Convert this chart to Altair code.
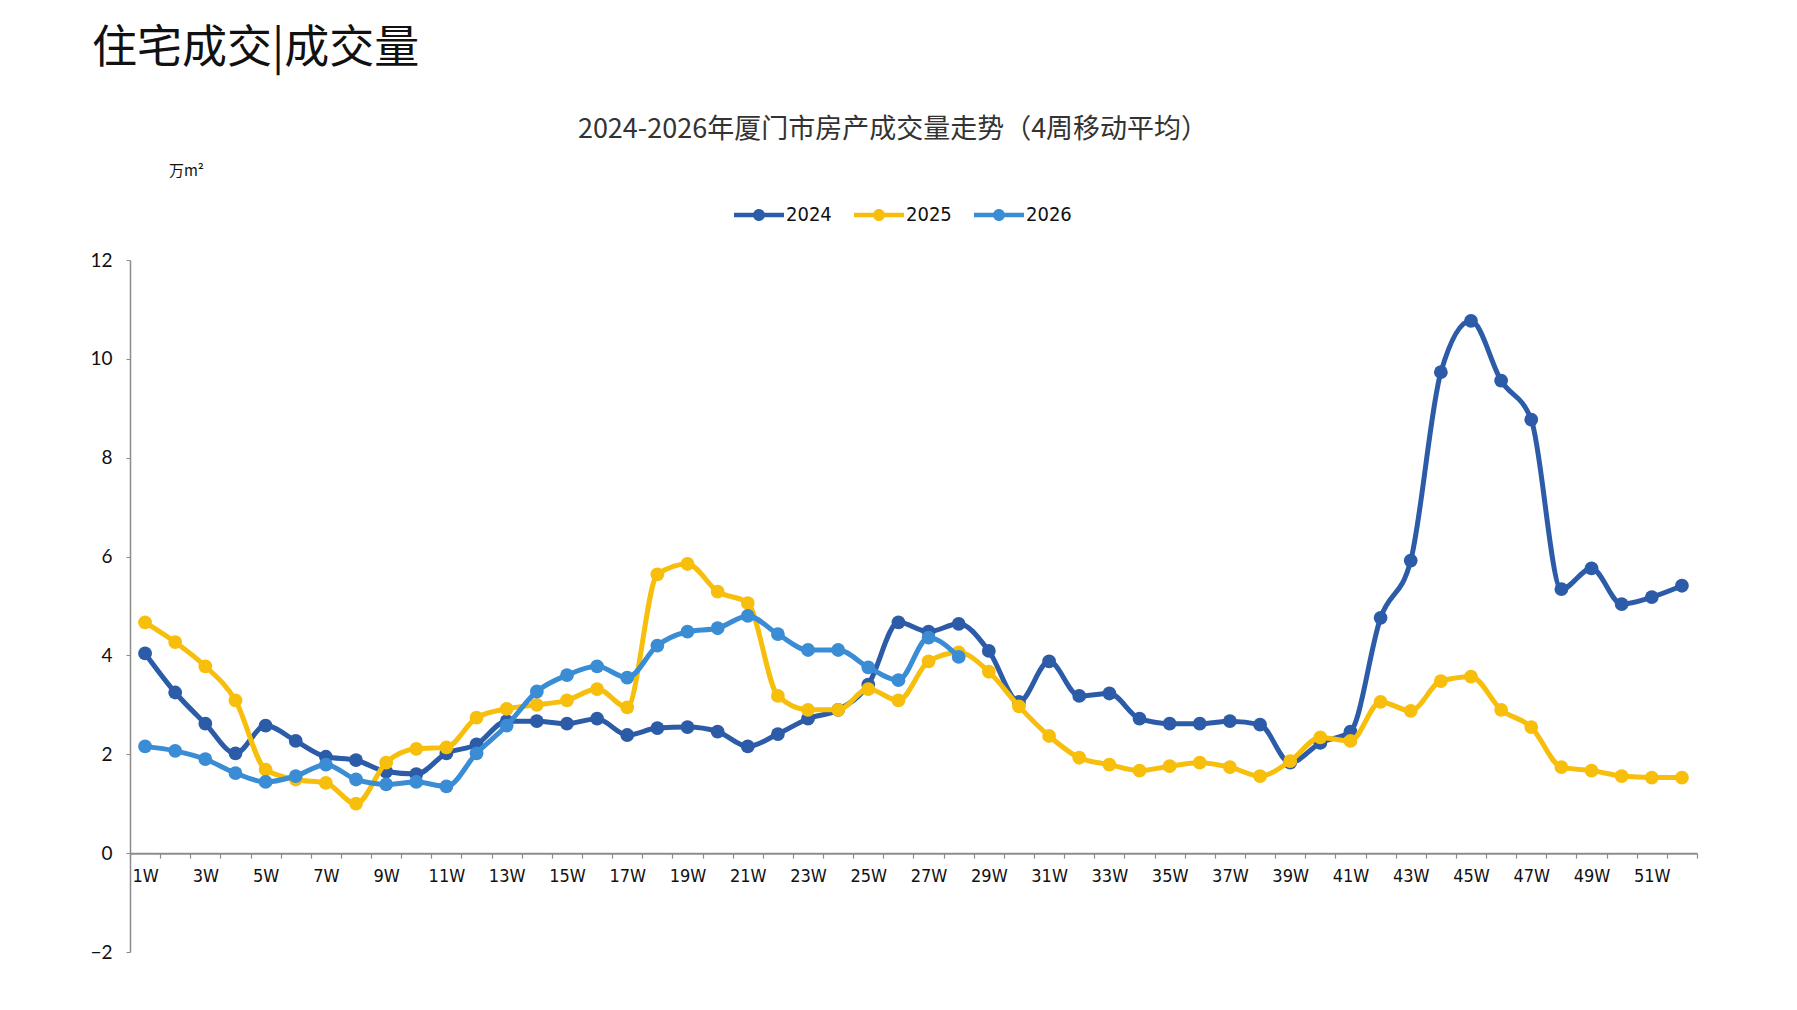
import altair as alt
import pandas as pd

weeks = [f"{i}W" for i in range(1, 53)]

v2024 = [4.04, 3.25, 2.62, 2.02, 2.58, 2.27, 1.95, 1.88, 1.65, 1.60,
         2.02, 2.20, 2.67, 2.67, 2.62, 2.72, 2.39, 2.53, 2.55, 2.46,
         2.16, 2.41, 2.72, 2.90, 3.41, 4.67, 4.48, 4.64, 4.09, 3.06,
         3.88, 3.18, 3.23, 2.72, 2.62, 2.62, 2.67, 2.60, 1.83, 2.23,
         2.46, 4.76, 5.92, 9.73, 10.77, 9.56, 8.77, 5.34, 5.76, 5.04,
         5.18, 5.41]
v2025 = [4.67, 4.27, 3.78, 3.09, 1.69, 1.49, 1.42, 1.00, 1.83, 2.11,
         2.14, 2.74, 2.92, 3.00, 3.09, 3.32, 2.95, 5.64, 5.85, 5.29,
         5.06, 3.18, 2.90, 2.90, 3.32, 3.09, 3.88, 4.06, 3.67, 2.97,
         2.37, 1.93, 1.79, 1.67, 1.76, 1.83, 1.74, 1.56, 1.86, 2.34,
         2.27, 3.06, 2.88, 3.48, 3.57, 2.90, 2.55, 1.74, 1.67, 1.56,
         1.53, 1.53]
v2026 = [2.16, 2.07, 1.90, 1.62, 1.44, 1.56, 1.79, 1.49, 1.39, 1.44,
         1.35, 2.02, 2.58, 3.27, 3.60, 3.78, 3.55, 4.20, 4.48, 4.55,
         4.80, 4.43, 4.11, 4.11, 3.76, 3.50, 4.36, 3.97]

years = ["2024", "2025", "2026"]
colors = ["#2C5BA8", "#F7BE0C", "#3A8DD4"]
series = [v2024, v2025, v2026]

page_title = "住宅成交|成交量"
chart_title = "2024-2026年厦门市房产成交量走势（4周移动平均）"

rows = []
for y, vals in zip(years, series):
    for w, v in zip(weeks, vals):
        rows.append({"week": w, "year": y, "value": v})
df = pd.DataFrame(rows)

W, H = 1567, 692
label_font = "Liberation Sans Narrow, DejaVu Sans Condensed, Noto Sans CJK SC"

color = alt.Color(
    "year:N",
    scale=alt.Scale(domain=years, range=colors),
    legend=alt.Legend(
        title=None,
        orient="none",
        direction="horizontal",
        legendX=604,
        legendY=-70,
        symbolType="M-1,-0.09L1,-0.09L1,0.09L-1,0.09Z M-0.24,0A0.24,0.24 0 1,1 0.24,0A0.24,0.24 0 1,1 -0.24,0Z",
        symbolSize=2500,
        symbolStrokeWidth=0,
        symbolOpacity=1,
        labelFont=label_font,
        labelFontSize=20,
        labelColor="#111111",
        labelOffset=2,
        columnPadding=22,
    ),
)

x = alt.X(
    "week:N",
    sort=weeks,
    scale=alt.Scale(type="band", domain=weeks, paddingInner=0, paddingOuter=0),
    axis=alt.Axis(
        title=None,
        labelAngle=0,
        labelExpr="toNumber(replace(datum.label, 'W', '')) % 2 == 1 ? datum.label : ''",
        tickBand="extent",
        offset=-H * 2 / 14,
        domainColor="#8c8c8c",
        domainWidth=2,
        tickColor="#8c8c8c",
        tickWidth=1.2,
        tickSize=5,
        labelPadding=9,
        labelFont=label_font,
        labelFontSize=18,
        labelColor="#111111",
        labelOverlap=False,
    ),
)
y = alt.Y(
    "value:Q",
    scale=alt.Scale(domain=[-2, 12], nice=False, zero=False),
    axis=alt.Axis(
        title="万m²",
        titleAngle=0,
        titleX=56,
        titleY=-90,
        titleAlign="center",
        titleBaseline="middle",
        titleFont="Noto Sans CJK SC",
        titleFontSize=15,
        titleFontWeight="normal",
        titleColor="#111111",
        values=list(range(-2, 13, 2)),
        grid=False,
        domainColor="#8c8c8c",
        domainWidth=1.5,
        tickColor="#8c8c8c",
        tickSize=4,
        labelPadding=14,
        labelFont="Lato",
        labelFontSize=19,
        labelColor="#111111",
    ),
)

layers = []
for yr in years:
    sub = alt.Chart(df).transform_filter(alt.datum.year == yr)
    layers.append(
        sub.mark_line(strokeWidth=5, interpolate="monotone").encode(x=x, y=y, color=color)
    )
    layers.append(
        sub.mark_point(filled=True, size=190, opacity=1).encode(x=x, y=y, color=color)
    )

texts = pd.DataFrame({"t": [page_title, chart_title]})
head = alt.Chart(texts).transform_filter(alt.datum.t == page_title).mark_text(
    align="left", baseline="middle", font="Noto Sans CJK SC", fontSize=45,
    color="#111111", clip=False,
).encode(text="t:N", x=alt.value(-38), y=alt.value(-211))
sub_title = alt.Chart(texts).transform_filter(alt.datum.t == chart_title).mark_text(
    align="center", baseline="middle", font="Noto Sans CJK SC", fontSize=27,
    color="#333333", clip=False,
).encode(text="t:N", x=alt.value(763), y=alt.value(-130))
layers += [head, sub_title]

chart = alt.layer(*layers).properties(
    width=W,
    height=H,
    background="white",
    padding={"left": 122, "top": 252, "right": 40, "bottom": 40},
    autosize=alt.AutoSizeParams(type="none"),
).configure_view(strokeWidth=0)

chart.save("out.html", embed_options={"renderer": "svg", "actions": False})
